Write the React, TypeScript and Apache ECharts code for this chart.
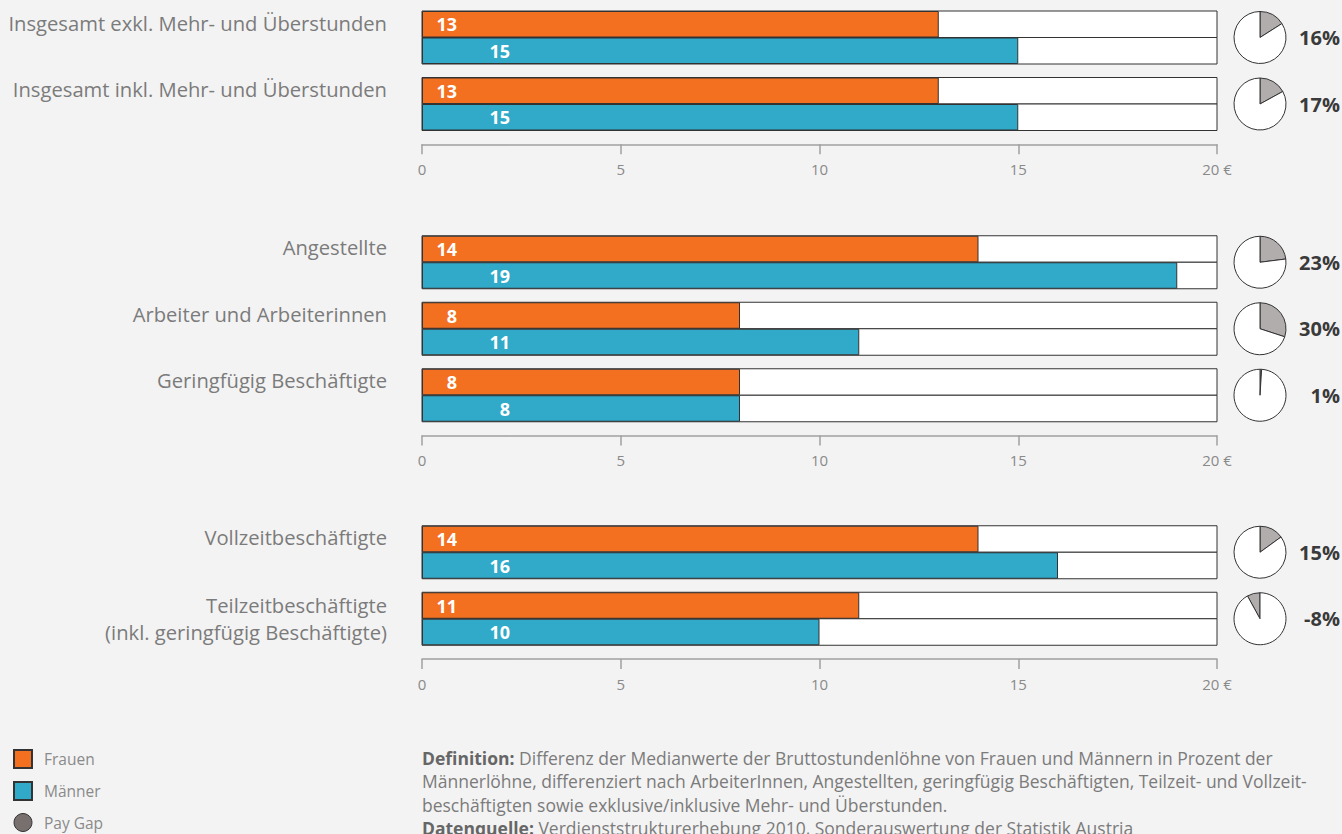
import React, { useEffect, useRef } from "react";
import * as echarts from "echarts";

// ---- data ----
const groupLabels: string[][] = [
  ["Insgesamt exkl. Mehr- und Überstunden", "Insgesamt inkl. Mehr- und Überstunden"],
  ["Angestellte", "Arbeiter und Arbeiterinnen", "Geringfügig Beschäftigte"],
  ["Vollzeitbeschäftigte", "Teilzeitbeschäftigte\n(inkl. geringfügig Beschäftigte)"],
];
const frauen: number[][] = [
  [13, 13],
  [14, 8, 8],
  [14, 11],
];
const maenner: number[][] = [
  [15, 15],
  [19, 11, 8],
  [16, 10],
];
const payGap: number[][] = [
  [16, 17],
  [23, 30, 1],
  [15, -8],
];
const xTicks = [0, 5, 10, 15, 20];
const currency = "€";
const legendNames = ["Frauen", "Männer", "Pay Gap"];
const footnoteLines = [
  ["Definition:", " Differenz der Medianwerte der Bruttostundenlöhne von Frauen und Männern in Prozent der"],
  ["", "Männerlöhne, differenziert nach ArbeiterInnen, Angestellten, geringfügig Beschäftigten, Teilzeit- und Vollzeit-"],
  ["", "beschäftigten sowie exklusive/inklusive Mehr- und Überstunden."],
  ["Datenquelle:", " Verdienststrukturerhebung 2010, Sonderauswertung der Statistik Austria"],
];

// ---- layout / style ----
const ORANGE = "#f37021";
const BLUE = "#31a9c9";
const GRAY = "#b2adad";
const BORDER = "#333333";
const FONT = "'Open Sans', sans-serif";
const GRID_LEFT = 422;
const GRID_RIGHT = 125;
const BAND = 66.5;
const BAR_W = 26.5;
const groupTops = [4.25, 229, 519];
const PIE_X = 1260;

function buildOption() {
  const grid: any[] = [];
  const xAxis: any[] = [];
  const yAxis: any[] = [];
  const series: any[] = [];
  const graphic: any[] = [];
  const lastTick = xTicks[xTicks.length - 1];

  groupLabels.forEach((labels, g) => {
    const top = groupTops[g];
    grid.push({ left: GRID_LEFT, right: GRID_RIGHT, top, height: BAND * labels.length });
    xAxis.push({
      gridIndex: g,
      type: "value",
      min: xTicks[0],
      max: lastTick,
      interval: xTicks[1] - xTicks[0],
      position: "bottom",
      offset: 7,
      axisLine: { show: true, lineStyle: { color: "#a0a0a0", width: 1.5 } },
      axisTick: { show: true, length: 10, lineStyle: { color: "#a0a0a0", width: 1.5 } },
      splitLine: { show: false },
      axisLabel: {
        margin: 17,
        color: "#8a8a8a",
        fontFamily: FONT,
        fontSize: 15,
        formatter: (v: number) => (v === lastTick ? `${v} ${currency}` : String(v)),
      },
    });
    yAxis.push({
      gridIndex: g,
      type: "category",
      inverse: true,
      data: labels.map((l) =>
        l.includes("\n")
          ? { value: l, textStyle: { verticalAlign: "middle", lineHeight: 27 } }
          : { value: l, textStyle: { verticalAlign: "bottom", lineHeight: 30 } }
      ),
      axisLine: { show: false },
      axisTick: { show: false },
      axisLabel: {
        margin: 35,
        color: "#7b7b7b",
        fontFamily: FONT,
        fontSize: 20.2,
        align: "right",
      },
    });
    const mkBar = (name: string, data: number[], color: string, labelX: number) => ({
      type: "bar",
      name,
      xAxisIndex: g,
      yAxisIndex: g,
      data,
      barWidth: BAR_W,
      barGap: "0%",
      showBackground: true,
      backgroundStyle: { color: "#ffffff", borderColor: BORDER, borderWidth: 1 },
      itemStyle: { color, borderColor: BORDER, borderWidth: 1 },
      label: {
        show: true,
        position: [labelX, "50%"],
        align: "right",
        verticalAlign: "middle",
        color: "#ffffff",
        fontFamily: FONT,
        fontWeight: "bold",
        fontSize: 18,
      },
      silent: true,
    });
    series.push(mkBar("Frauen", frauen[g], ORANGE, 35));
    series.push(mkBar("Männer", maenner[g], BLUE, 88));

    payGap[g].forEach((gap, i) => {
      const cy = top + BAND * (i + 0.5);
      series.push({
        type: "pie",
        center: [PIE_X, cy],
        radius: 26,
        startAngle: 90,
        clockwise: gap >= 0,
        silent: true,
        label: { show: false },
        labelLine: { show: false },
        itemStyle: { borderColor: BORDER, borderWidth: 1 },
        data: [
          { name: "Pay Gap", value: Math.abs(gap), itemStyle: { color: GRAY } },
          { name: "Rest", value: 100 - Math.abs(gap), itemStyle: { color: "#ffffff" } },
        ],
      });
      graphic.push({
        type: "text",
        x: 1340,
        y: cy,
        style: {
          text: `${gap}%`,
          align: "right",
          verticalAlign: "middle",
          fill: "#3a3a3a",
          font: `bold 20px ${FONT}`,
        },
      });
    });
  });

  graphic.push({
    type: "text",
    x: 422,
    y: 746,
    style: {
      text: footnoteLines
        .map(([b, t]) => (b ? `{b|${b}}${t}` : t))
        .join("\n"),
      fill: "#7b7b7b",
      fontFamily: FONT,
      fontSize: 17.5,
      lineHeight: 23.5,
      rich: {
        b: { fontWeight: "bold", fill: "#666666", fontFamily: FONT, fontSize: 17.5, lineHeight: 23.5 },
      },
    },
  });

  return {
    animation: false,
    backgroundColor: "#f3f3f3",
    grid,
    xAxis,
    yAxis,
    series,
    graphic,
    legend: {
      orient: "vertical",
      left: 13,
      top: 749,
      padding: 0,
      height: 90,
      itemWidth: 18,
      itemHeight: 18,
      itemGap: 12,
      selectedMode: false,
      textStyle: { color: "#8a8a8a", fontFamily: FONT, fontSize: 15.5, lineHeight: 18, padding: [0, 0, 0, 7] },
      data: [
        { name: legendNames[0], icon: "rect" },
        { name: legendNames[1], icon: "rect" },
        { name: legendNames[2], icon: "circle", itemStyle: { color: "#77706f", borderColor: BORDER, borderWidth: 1 } },
      ],
    },
  };
}

export default function App() {
  const ref = useRef<HTMLDivElement>(null);
  useEffect(() => {
    if (!ref.current) return;
    const chart = echarts.init(ref.current, null, { renderer: "svg" });
    chart.setOption(buildOption() as any);
    return () => chart.dispose();
  }, []);
  return (
    <div
      ref={ref}
      style={{ position: "absolute", left: 0, top: 0, width: 1342, height: 834, background: "#f3f3f3" }}
    />
  );
}
